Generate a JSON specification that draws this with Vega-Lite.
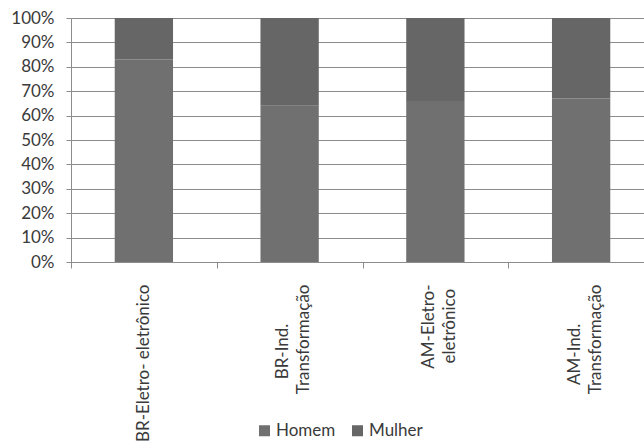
{
  "$schema": "https://vega.github.io/schema/vega-lite/v6.json",
  "autosize": {"type": "none"},
  "padding": {"left": 71, "top": 18, "right": 0, "bottom": 184},
  "width": 573,
  "height": 244,
  "background": "white",
  "config": {
    "font": "Lato",
    "view": {"stroke": null},
    "axis": {
      "labelFont": "Lato",
      "labelFontSize": 17,
      "labelColor": "#3a3a3a",
      "domainColor": "#8c8c8c",
      "tickColor": "#8c8c8c",
      "gridColor": "#8c8c8c",
      "titleFontSize": 0
    }
  },
  "data": {
    "values": [
      {"setor": "BR-Eletro- eletrônico", "sexo": "Homem", "valor": 83},
      {"setor": "BR-Eletro- eletrônico", "sexo": "Mulher", "valor": 17},
      {"setor": "BR-Ind.\nTransformação", "sexo": "Homem", "valor": 64},
      {"setor": "BR-Ind.\nTransformação", "sexo": "Mulher", "valor": 36},
      {"setor": "AM-Eletro-\neletrônico", "sexo": "Homem", "valor": 66},
      {"setor": "AM-Eletro-\neletrônico", "sexo": "Mulher", "valor": 34},
      {"setor": "AM-Ind.\nTransformação", "sexo": "Homem", "valor": 67},
      {"setor": "AM-Ind.\nTransformação", "sexo": "Mulher", "valor": 33}
    ]
  },
  "mark": {"type": "bar", "width": {"band": 0.4}},
  "encoding": {
    "x": {
      "field": "setor",
      "type": "nominal",
      "sort": null,
      "title": null,
      "scale": {"range": [0, 583], "paddingInner": 0, "paddingOuter": 0},
      "axis": {
        "labelAngle": -90,
        "labelAlign": "right",
        "labelBaseline": "middle",
        "labelLineHeight": 21,
        "labelPadding": 16,
        "labelOffset": {"condition": {"test": "indexof(datum.label, '\\n') >= 0", "value": -7}, "value": 0},
        "tickSize": 6,
        "tickBand": "extent",
        "labelExpr": "indexof(datum.label, 'Ind.') >= 0 ? [split(datum.label, '\\n')[0] + '\u00a0\u00a0\u00a0\u00a0\u00a0\u00a0\u00a0\u00a0\u00a0\u200b', split(datum.label, '\\n')[1]] : indexof(datum.label, '\\n') >= 0 ? [split(datum.label, '\\n')[0], split(datum.label, '\\n')[1] + '\u00a0\u200b'] : datum.label",
        "grid": false
      }
    },
    "y": {
      "field": "valor",
      "type": "quantitative",
      "stack": "normalize",
      "title": null,
      "scale": {"domain": [0, 1], "nice": false},
      "axis": {
        "format": ".0%",
        "values": [0, 0.1, 0.2, 0.3, 0.4, 0.5, 0.6, 0.7, 0.8, 0.9, 1],
        "tickSize": 5,
        "labelPadding": 12,
        "grid": true
      }
    },
    "color": {
      "field": "sexo",
      "type": "nominal",
      "title": null,
      "scale": {"domain": ["Homem", "Mulher"], "range": ["#707070", "#666666"]},
      "legend": {
        "orient": "none",
        "direction": "horizontal",
        "legendX": 185,
        "legendY": 404,
        "symbolType": "square",
        "symbolSize": 121,
        "symbolStrokeWidth": 0,
        "labelFont": "Lato",
        "labelFontSize": 17,
        "labelColor": "#3a3a3a",
        "labelOffset": 3,
        "columnPadding": 13
      }
    },
    "order": {"field": "sexo", "sort": "ascending"}
  }
}
